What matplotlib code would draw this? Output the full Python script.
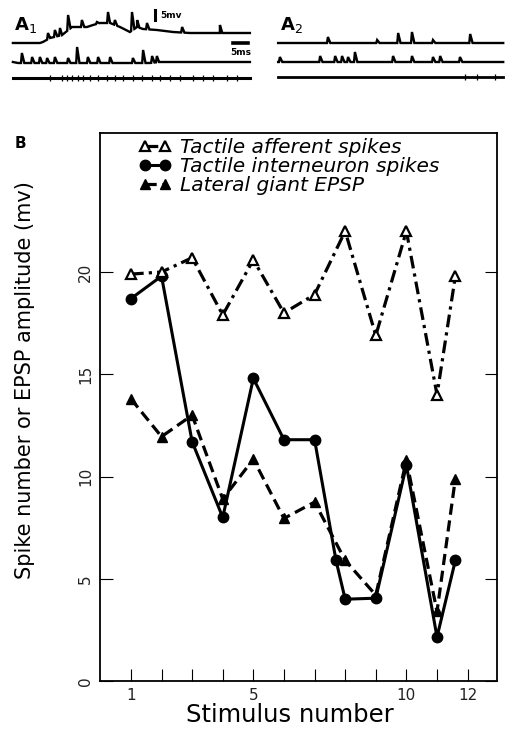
import numpy as np
import matplotlib
matplotlib.use('Agg')   # no display in the sandbox
import matplotlib.pyplot as plt

# ---- Panel B: values ----
stim_afferent = [1, 2, 3, 4, 5, 6, 7, 8, 9, 10, 11, 11.6]
afferent_spikes = [19.9, 20.0, 20.7, 17.9, 20.6, 18.0, 18.9, 22.0, 16.9, 22.0, 14.0, 19.8]

stim_interneuron = [1, 2, 3, 4, 5, 6, 7, 7.7, 8, 9, 10, 11, 11.6]
interneuron_spikes = [18.7, 19.8, 11.7, 8.0, 14.8, 11.8, 11.8, 5.9, 4.0, 4.05, 10.55, 2.15, 5.9]

stim_epsp = [1, 2, 3, 4, 5, 6, 7, 8, 9, 10, 11, 11.6]
epsp_amplitude = [13.8, 11.95, 13.0, 8.9, 10.85, 7.95, 8.75, 5.9, 4.2, 10.8, 3.4, 9.9]

x_ticks = [1, 2, 3, 4, 5, 6, 7, 8, 9, 10, 11, 12]
x_tick_labels = ['1', '', '', '', '5', '', '', '', '', '10', '', '12']
y_ticks = [0, 5, 10, 15, 20]

# ---- Panel A: recorded traces, (ms, mV) keypoints + spikes as (ms, peak mV) ----
a1_top_t = [4.3, 13.3, 14.3, 16.7, 20.7, 24, 29, 31, 33.3, 36.7, 40, 43.3, 45.7,
            47.7, 52.3, 57.7, 63.3, 73.3, 83.3]
a1_top_v = [28.5, 28.5, 29, 31, 32.5, 36.5, 36.5, 37.5, 38.5, 38.5, 36.5, 34, 36.5,
            35.5, 35, 34, 33.5, 33.5, 33.5]
a1_top_spikes = [(16, 33.5), (18.3, 35), (20, 36), (22.7, 42.5), (27.3, 40), (32.3, 39),
                 (36, 44), (38.3, 40), (44, 44), (45.7, 40), (49, 38.5), (60.7, 36.5),
                 (73.3, 37.5)]

a1_mid_t = [4.3, 6, 50, 53, 83.3]
a1_mid_v = [19, 18.5, 18.5, 19, 19]
a1_mid_spikes = [(7.3, 23.5), (10.7, 21.5), (13.3, 21.5), (15.7, 21), (18.3, 21.5),
                 (22.7, 21), (25.7, 26.5), (29.3, 21.5), (32.7, 21.5), (36.7, 21.5),
                 (44.3, 21), (47.7, 25), (50.7, 22), (52.3, 22)]

a1_bot_t = [4.3, 83.3]
a1_bot_v = [11, 11]
a1_bot_stims = [16.7, 20.7, 22.3, 24, 26, 27.7, 30, 32.7, 35.7, 38.3, 41, 44.3, 47.3,
                50.7, 53.3, 56.7, 60, 64.3, 67.7, 71, 75.7, 79]

a2_top_t = [7.7, 82.7]
a2_top_v = [28.5, 28.5]
a2_top_spikes = [(24.3, 31.5), (40.7, 30), (47.7, 33.5), (52.3, 34), (59.3, 30), (71.7, 33)]

a2_mid_t = [7.7, 82.7]
a2_mid_v = [19, 19]
a2_mid_spikes = [(8.3, 21.5), (21.7, 22), (26.7, 22), (29, 22), (31, 21.5), (33.3, 24),
                 (46, 22), (52.3, 22), (59.3, 21.5), (61.7, 22), (68.3, 21.5)]

a2_bot_t = [7.7, 82.7]
a2_bot_v = [11.5, 11.5]
a2_bot_stims = [70, 74, 80]

scale_mv = 5
scale_ms = 5


def with_spikes(t, v, spikes, rise=0.3, fall=0.8):
    """Insert sharp spikes on top of a baseline polyline."""
    tt, vv = list(t), list(v)
    for ts, peak in spikes:
        tt += [ts - rise, ts, ts + fall]
        vv += [np.interp(ts - rise, t, v), peak, np.interp(ts + fall, t, v)]
    order = np.argsort(tt, kind='stable')
    return np.array(tt)[order], np.array(vv)[order]


def draw_traces(ax, traces, stims):
    for t, v, spikes, lw in traces:
        tt, vv = with_spikes(t, v, spikes)
        ax.plot(tt, vv, color='black', lw=lw, solid_joinstyle='miter')
    t, v = stims[0], stims[1]
    ax.vlines(stims[2], v - 1.4, v + 1.4, color='black', lw=0.9)


fig = plt.figure(figsize=(5.08, 7.32), dpi=100)

# ---- Panel A1 ----
ax_a1 = fig.add_axes([0, 1 - 100 / 732, 255 / 508, 100 / 732])
ax_a1.set_xlim(0, 85)
ax_a1.set_ylim(0, 50)
ax_a1.axis('off')
draw_traces(ax_a1,
            [(a1_top_t, a1_top_v, a1_top_spikes, 1.7),
             (a1_mid_t, a1_mid_v, a1_mid_spikes, 1.7),
             (a1_bot_t, a1_bot_v, [], 2.2)],
            (a1_bot_t, a1_bot_v[0], a1_bot_stims))
ax_a1.text(4.5, 35, 'A$_1$', fontsize=13, fontweight='bold', va='baseline')
ax_a1.plot([51.7, 51.7], [40, 40 + scale_mv], color='black', lw=2.2)
ax_a1.text(53.3, 42.5, f'{scale_mv}mv', fontsize=6.5, fontweight='bold', va='center')
ax_a1.plot([77.7, 77.7 + scale_ms], [28.5, 28.5], color='black', lw=2.6)
ax_a1.text(80.2, 26.2, f'{scale_ms}ms', fontsize=6.5, fontweight='bold',
           ha='center', va='top')

# ---- Panel A2 ----
ax_a2 = fig.add_axes([255 / 508, 1 - 100 / 732, 253 / 508, 100 / 732])
ax_a2.set_xlim(0, 84.3)
ax_a2.set_ylim(0, 50)
ax_a2.axis('off')
draw_traces(ax_a2,
            [(a2_top_t, a2_top_v, a2_top_spikes, 1.7),
             (a2_mid_t, a2_mid_v, a2_mid_spikes, 1.7),
             (a2_bot_t, a2_bot_v, [], 2.0)],
            (a2_bot_t, a2_bot_v[0], a2_bot_stims))
ax_a2.text(8.3, 35, 'A$_2$', fontsize=13, fontweight='bold', va='baseline')

# ---- Panel B ----
ax = fig.add_axes([100 / 508, 51 / 732, 397 / 508, 548 / 732])
ax.plot(stim_afferent, afferent_spikes, color='black', lw=2.3,
        dashes=(4, 1.6, 1, 1.6), marker='^', markersize=7.5,
        markerfacecolor='white', markeredgecolor='black', markeredgewidth=1.6,
        label='Tactile afferent spikes', zorder=3)
ax.plot(stim_interneuron, interneuron_spikes, color='black', lw=2.2,
        marker='o', markersize=7.5, label='Tactile interneuron spikes', zorder=2)
ax.plot(stim_epsp, epsp_amplitude, color='black', lw=2.3, dashes=(3.5, 1.8),
        marker='^', markersize=7.5, label='Lateral giant EPSP', zorder=2)

ax.set_xlim(-0.01, 12.96)
ax.set_ylim(0, 26.8)
ax.set_xticks(x_ticks)
ax.set_xticklabels(x_tick_labels, fontsize=11, color='#222222')
ax.set_yticks(y_ticks)
ax.set_yticklabels([str(v) for v in y_ticks], fontsize=11, color='#222222',
                   rotation=90, va='center')
ax.tick_params(direction='in', length=9, width=0.8, right=True, top=False, pad=5)
for side in ['left', 'right', 'top', 'bottom']:
    ax.spines[side].set_linewidth(1.3)

leg = ax.legend(loc='upper left', bbox_to_anchor=(0.098, 0.99), frameon=False,
                numpoints=2, handlelength=1.6, handletextpad=0.45,
                labelspacing=0.0, borderpad=0, borderaxespad=0,
                prop={'size': 14.5, 'style': 'italic'})

fig.text(15 / 508, 1 - 143 / 732, 'B', fontsize=11, fontweight='bold', va='center')
fig.text(25 / 508, 1 - 380 / 732, 'Spike number or EPSP amplitude (mv)',
         fontsize=15, rotation=90, ha='center', va='center')
fig.text(290 / 508, 1 - 715 / 732, 'Stimulus number', fontsize=17.5,
         ha='center', va='center')

plt.savefig('out.png', dpi=100)
plt.close()
